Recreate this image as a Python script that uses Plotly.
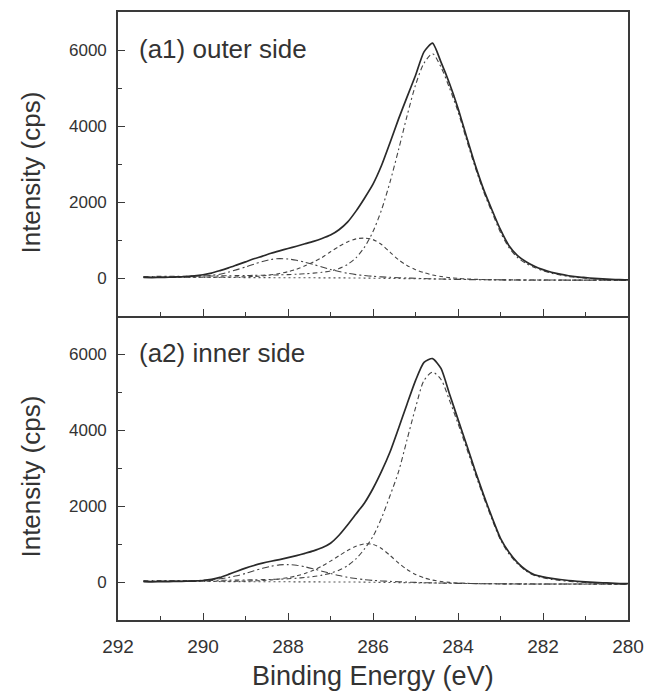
import plotly.graph_objects as go

# ---------------- data ----------------
energy = [291.4, 291.2, 291.0, 290.8, 290.6, 290.4, 290.2, 290.0, 289.8, 289.6,
          289.4, 289.2, 289.0, 288.8, 288.6, 288.4, 288.2, 288.0, 287.8, 287.6,
          287.4, 287.2, 287.0, 286.8, 286.6, 286.4, 286.2, 286.0, 285.8, 285.6,
          285.4, 285.2, 285.0, 284.8, 284.6, 284.4, 284.2, 284.0, 283.8, 283.6,
          283.4, 283.2, 283.0, 282.8, 282.6, 282.4, 282.2, 282.0, 281.8, 281.6,
          281.4, 281.2, 281.0, 280.8, 280.6, 280.4, 280.2, 280.0]

# (a1) outer side
outer_raw = [15, 12, 18, 20, 28, 38, 55, 85, 130, 195,
             265, 345, 425, 505, 575, 650, 715, 775, 835, 900,
             965, 1040, 1130, 1270, 1470, 1760, 2100, 2470, 2960, 3560,
             4180, 4760, 5330, 5950, 6180, 5680, 5120, 4470, 3720, 2990,
             2340, 1790, 1270, 850, 590, 430, 310, 220, 150, 100,
             60, 30, 10, -10, -25, -35, -45, -50]
outer_c1 = [40, 41, 43, 44, 46, 48, 50, 52, 53, 56,
            59, 62, 65, 69, 73, 78, 84, 90, 99, 111,
            128, 150, 184, 247, 357, 532, 812, 1222, 1791, 2524,
            3369, 4260, 5075, 5653, 5900, 5550, 5000, 4380, 3640, 2930,
            2280, 1730, 1200, 800, 540, 385, 275, 190, 125, 80,
            40, 15, -5, -20, -35, -45, -50, -55]
outer_c2 = [20, 20, 20, 20, 21, 21, 21, 22, 23, 24,
            26, 28, 32, 40, 55, 85, 120, 165, 230, 320,
            420, 540, 690, 830, 950, 1030, 1050, 1010, 880, 680,
            480, 330, 220, 140, 80, 40, 10, -10, -25, -35,
            -40, -45, -47, -49, -50, -51, -52, -53, -54, -55,
            -55, -56, -56, -57, -57, -58, -58, -58]
outer_c3 = [22, 23, 25, 27, 30, 33, 40, 50, 70, 100,
            155, 220, 290, 365, 435, 488, 510, 500, 465, 415,
            355, 290, 225, 170, 125, 90, 65, 45, 30, 18,
            8, 0, -8, -15, -22, -28, -33, -37, -41, -44,
            -46, -48, -50, -51, -52, -52, -53, -53, -54, -54,
            -55, -55, -55, -56, -56, -57, -57, -57]
outer_bg = [20, 20, 20, 20, 20, 20, 20, 20, 19, 19,
            19, 18, 18, 17, 16, 15, 14, 13, 12, 11,
            10, 8, 7, 5, 3, 1, -2, -5, -9, -13,
            -18, -23, -29, -35, -40, -45, -49, -52, -55, -57,
            -58, -59, -60, -60, -60, -60, -60, -60, -60, -60,
            -60, -60, -60, -60, -60, -60, -60, -60]

# (a2) inner side
inner_raw = [10, 5, 10, 12, 15, 20, 25, 40, 70, 120,
             200, 285, 365, 435, 495, 545, 590, 640, 695, 755,
             820, 900, 1020, 1230, 1500, 1790, 2080, 2460, 2910, 3420,
             4040, 4680, 5300, 5780, 5880, 5620, 4950, 4280, 3620, 2940,
             2300, 1700, 1150, 780, 510, 316, 190, 135, 95, 65,
             40, 20, 5, -10, -20, -30, -40, -45]
inner_c1 = [35, 35, 36, 37, 38, 39, 40, 41, 43, 45,
            47, 50, 53, 57, 62, 68, 75, 85, 100, 120,
            145, 180, 230, 310, 430, 610, 870, 1200, 1680, 2270,
            2900, 3740, 4580, 5300, 5520, 5330, 4780, 4170, 3530, 2870,
            2240, 1650, 1110, 740, 480, 290, 170, 110, 70, 42,
            18, 0, -15, -25, -35, -42, -48, -52]
inner_c2 = [18, 18, 18, 18, 18, 18, 18, 18, 19, 19,
            20, 22, 25, 30, 40, 55, 80, 115, 160, 225,
            310, 420, 550, 690, 830, 940, 1005, 990, 880, 700,
            500, 330, 200, 110, 50, 15, -10, -25, -35, -40,
            -45, -47, -49, -50, -51, -51, -52, -52, -53, -53,
            -54, -54, -54, -55, -55, -55, -56, -56]
inner_c3 = [20, 21, 22, 24, 27, 31, 37, 45, 60, 85,
            120, 165, 225, 295, 360, 415, 450, 458, 440, 400,
            345, 285, 225, 170, 125, 90, 62, 42, 28, 16,
            6, -2, -10, -17, -23, -28, -33, -37, -40, -43,
            -45, -47, -48, -49, -50, -50, -51, -51, -52, -52,
            -53, -53, -54, -54, -54, -55, -55, -55]
inner_bg = [18, 18, 18, 18, 18, 18, 18, 18, 17, 17,
            17, 16, 16, 15, 14, 13, 12, 11, 10, 9,
            8, 6, 5, 3, 1, -1, -4, -7, -10, -14,
            -19, -24, -29, -34, -39, -43, -47, -50, -52, -54,
            -55, -56, -57, -57, -57, -57, -57, -57, -57, -57,
            -57, -57, -57, -57, -57, -57, -57, -57]

x_tick_vals = [292, 290, 288, 286, 284, 282, 280]
x_tick_text = ["292", "290", "288", "286", "284", "282", "280"]
x_minor_vals = [291, 289, 287, 285, 283, 281]
y_tick_vals = [0, 2000, 4000, 6000]
y_tick_text = ["0", "2000", "4000", "6000"]
y_minor_vals = [1000, 3000, 5000]

panel_labels = ["(a1) outer side", "(a2) inner side"]
y_title = "Intensity (cps)"
x_title = "Binding Energy (eV)"

for arr in [outer_raw, outer_c1, outer_c2, outer_c3, outer_bg,
            inner_raw, inner_c1, inner_c2, inner_c3, inner_bg]:
    assert len(arr) == len(energy), len(arr)

# ---------------- figure ----------------
FONT = "Liberation Sans, Arial, Helvetica, sans-serif"
INK = "#333333"
AX = "#3a3a3a"

fig = go.Figure()

def add_panel(raw, c1, c2, c3, bg, xa, ya):
    common = dict(x=energy, xaxis=xa, yaxis=ya, mode="lines",
                  showlegend=False, hoverinfo="skip")
    fig.add_trace(go.Scatter(y=bg, line=dict(color="#555555", width=1.1,
                                             dash="2px,3px"), **common))
    fig.add_trace(go.Scatter(y=c3, line=dict(color="#444444", width=1.1,
                                             dash="7px,3px,2px,3px",
                                             shape="spline", smoothing=0.8), **common))
    fig.add_trace(go.Scatter(y=c2, line=dict(color="#444444", width=1.1,
                                             dash="4px,3px",
                                             shape="spline", smoothing=0.8), **common))
    fig.add_trace(go.Scatter(y=c1, line=dict(color="#444444", width=1.1,
                                             dash="5px,3px,2px,3px",
                                             shape="spline", smoothing=0.8), **common))
    fig.add_trace(go.Scatter(y=raw, line=dict(color="#2a2a2a", width=1.7,
                                              shape="spline", smoothing=0.6), **common))

add_panel(outer_raw, outer_c1, outer_c2, outer_c3, outer_bg, "x2", "y2")
add_panel(inner_raw, inner_c1, inner_c2, inner_c3, inner_bg, "x", "y")

axis_common = dict(showline=True, linecolor=AX, linewidth=1.6, mirror=True,
                   ticks="inside", ticklen=7, tickwidth=1.4, tickcolor=AX,
                   showgrid=False, zeroline=False)

xaxis_common = dict(axis_common, range=[292, 280], tickmode="array",
                    tickvals=x_tick_vals, ticktext=x_tick_text,
                    minor=dict(tickvals=x_minor_vals, ticks="inside",
                               ticklen=4, tickwidth=1.2, tickcolor=AX))
yaxis_common = dict(axis_common, range=[-1000, 7000], tickmode="array",
                    tickvals=y_tick_vals, ticktext=y_tick_text,
                    minor=dict(tickvals=y_minor_vals, ticks="inside",
                               ticklen=4, tickwidth=1.2, tickcolor=AX),
                    tickfont=dict(family=FONT, size=17, color=INK),
                    ticklabelstandoff=6)

fig.update_layout(
    width=654, height=693,
    margin=dict(l=118, r=26, t=10, b=73),
    paper_bgcolor="white", plot_bgcolor="white",
    font=dict(family=FONT, color=INK),
    xaxis=dict(xaxis_common, anchor="y", mirror=False,
               tickfont=dict(family=FONT, size=19, color=INK),
               ticklabelstandoff=8),
    xaxis2=dict(xaxis_common, anchor="y2", matches="x", showticklabels=False),
    yaxis=dict(yaxis_common, domain=[0, 0.5], anchor="x"),
    yaxis2=dict(yaxis_common, domain=[0.5, 1.0], anchor="x2"),
)

annos = [
    dict(text=y_title, x=-0.1725, y=0.736, textangle=-90, font_size=26),
    dict(text=y_title, x=-0.1725, y=0.236, textangle=-90, font_size=26),
    dict(text=x_title, x=0.5, y=-0.092, font_size=27),
    dict(text=panel_labels[0], x=0.037, y=0.939, xanchor="left", font_size=26),
    dict(text=panel_labels[1], x=0.037, y=0.439, xanchor="left", font_size=26),
]
for a in annos:
    fig.add_annotation(xref="paper", yref="paper", showarrow=False,
                       xanchor=a.get("xanchor", "center"), yanchor="middle",
                       x=a["x"], y=a["y"], text=a["text"],
                       textangle=a.get("textangle", 0),
                       font=dict(family=FONT, size=a["font_size"], color=INK))

fig.write_html("out.html", config={"displayModeBar": False})

# remove the default page margin so the figure sits at the window origin
with open("out.html", "r", encoding="utf-8") as fh:
    html = fh.read()
html = html.replace("<head>", "<head><style>html,body{margin:0;padding:0;overflow:hidden;}</style>", 1)
with open("out.html", "w", encoding="utf-8") as fh:
    fh.write(html)
